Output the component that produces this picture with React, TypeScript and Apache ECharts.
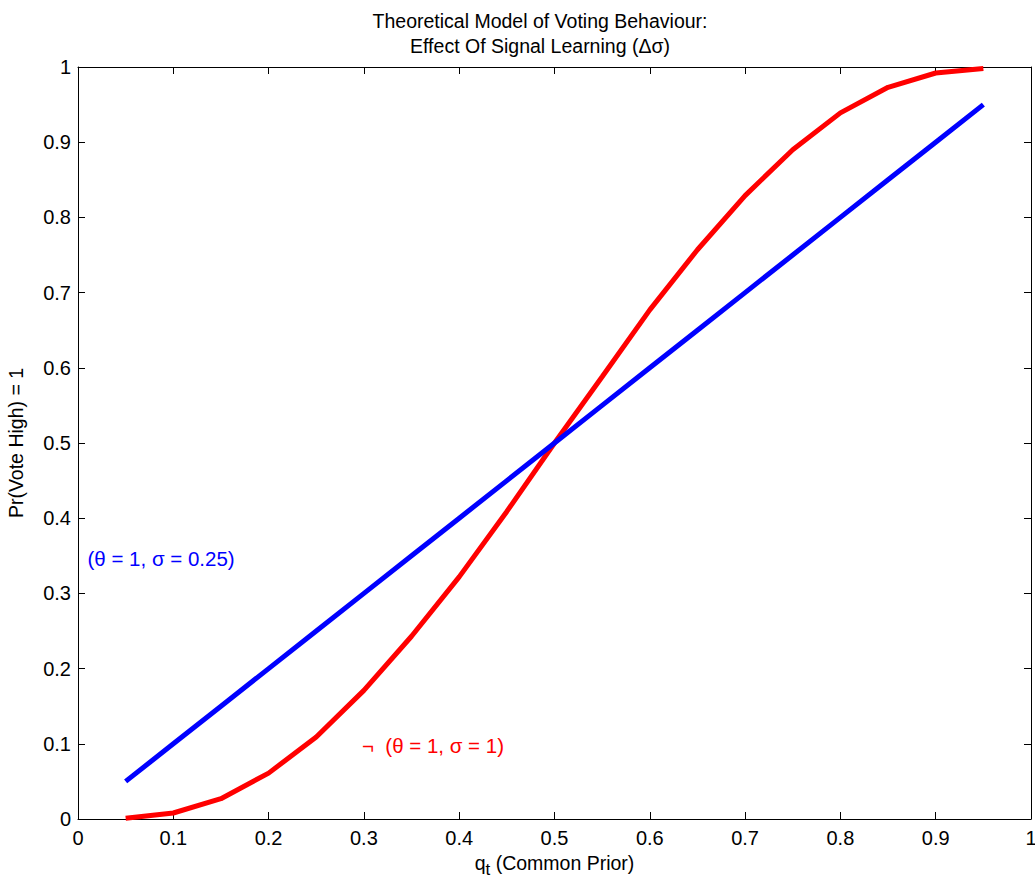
import React, { useEffect, useRef } from "react";
import * as echarts from "echarts";

const xValues = [0.05, 0.1, 0.15, 0.2, 0.25, 0.3, 0.35, 0.4, 0.45, 0.5, 0.55, 0.6, 0.65, 0.7, 0.75, 0.8, 0.85, 0.9, 0.95];
const blueValues = [0.05, 0.1, 0.15, 0.2, 0.25, 0.3, 0.35, 0.4, 0.45, 0.5, 0.55, 0.6, 0.65, 0.7, 0.75, 0.8, 0.85, 0.9, 0.95];
const redValues = [0.001, 0.008, 0.027, 0.061, 0.109, 0.171, 0.243, 0.322, 0.409, 0.5, 0.588, 0.677, 0.757, 0.829, 0.89, 0.939, 0.973, 0.992, 0.998];
const blueLabel = "(θ = 1, σ = 0.25)";
const redLabel = "¬  (θ = 1, σ = 1)";
const blueLabelPos = [0.01, 0.347];
const redLabelPos = [0.298, 0.098];

const FONT = "Liberation Sans, Arial, Helvetica, sans-serif";

export default function App() {
  const ref = useRef<HTMLDivElement>(null);
  useEffect(() => {
    const chart = echarts.init(ref.current!, null, { renderer: "svg" });
    const axisCommon = {
      min: 0,
      max: 1,
      interval: 0.1,
      axisLine: { show: true, onZero: false, lineStyle: { color: "#000", width: 1 } },
      axisTick: { show: true, inside: true, length: 7, lineStyle: { color: "#000" } },
      splitLine: { show: false },
    };
    const fmt = (v: number) => (Math.abs(v) < 1e-9 ? "0" : Math.abs(v - 1) < 1e-9 ? "1" : v.toFixed(1));
    chart.setOption({
      animation: false,
      backgroundColor: "#fff",
      textStyle: { fontFamily: FONT },
      grid: { left: 78, right: 4, top: 67, bottom: 62, containLabel: false, outerBoundsMode: "none" },
      title: {
        text: "Theoretical Model of Voting Behaviour:\nEffect Of Signal Learning (Δσ)",
        left: 535,
        top: 3,
        textAlign: "center",
        textStyle: { fontSize: 19.5, fontWeight: "normal", color: "#000", lineHeight: 25, fontFamily: FONT },
      },
      xAxis: [
        {
          ...axisCommon,
          type: "value",
          position: "bottom",
          axisLabel: { color: "#000", fontSize: 20, margin: 9, formatter: fmt, fontFamily: FONT },
          name: "{q|q}{sub|t}{n| (Common Prior)}",
          nameLocation: "middle",
          nameGap: 25,
          nameTextStyle: {
            rich: {
              q: { fontSize: 19.5, color: "#000", fontFamily: FONT },
              sub: { fontSize: 17, color: "#000", fontFamily: FONT, padding: [14, 0, 0, 0] },
              n: { fontSize: 19.5, color: "#000", fontFamily: FONT },
            },
          },
        },
        {
          ...axisCommon,
          type: "value",
          position: "top",
          axisLabel: { show: false },
        },
      ],
      yAxis: [
        {
          ...axisCommon,
          type: "value",
          position: "left",
          axisLabel: { color: "#000", fontSize: 20, margin: 7, formatter: fmt, fontFamily: FONT },
          name: "Pr(Vote High) = 1",
          nameLocation: "middle",
          nameGap: 52,
          nameTextStyle: { fontSize: 19.5, color: "#000", fontFamily: FONT },
        },
        {
          ...axisCommon,
          type: "value",
          position: "right",
          axisLabel: { show: false },
        },
      ],
      series: [
        {
          type: "line",
          data: xValues.map((x, i) => [x, redValues[i]]),
          symbol: "none",
          lineStyle: { color: "#ff0000", width: 5 },
          z: 3,
        },
        {
          type: "line",
          data: xValues.map((x, i) => [x, blueValues[i]]),
          symbol: "none",
          lineStyle: { color: "#0000ff", width: 5 },
          z: 4,
        },
      ],
    });
    const bp = chart.convertToPixel({ gridIndex: 0 }, blueLabelPos) as number[];
    const rp = chart.convertToPixel({ gridIndex: 0 }, redLabelPos) as number[];
    chart.setOption({
      graphic: [
        {
          type: "text",
          x: bp[0],
          y: bp[1],
          style: { text: blueLabel, fill: "#0000ff", font: `20.5px ${FONT}`, verticalAlign: "middle" },
        },
        {
          type: "text",
          x: rp[0],
          y: rp[1],
          style: { text: redLabel, fill: "#ff0000", font: `20.5px ${FONT}`, verticalAlign: "middle" },
        },
      ],
    });
    return () => chart.dispose();
  }, []);
  return <div ref={ref} style={{ position: "fixed", left: 0, top: 0, width: 1035, height: 881 }} />;
}
